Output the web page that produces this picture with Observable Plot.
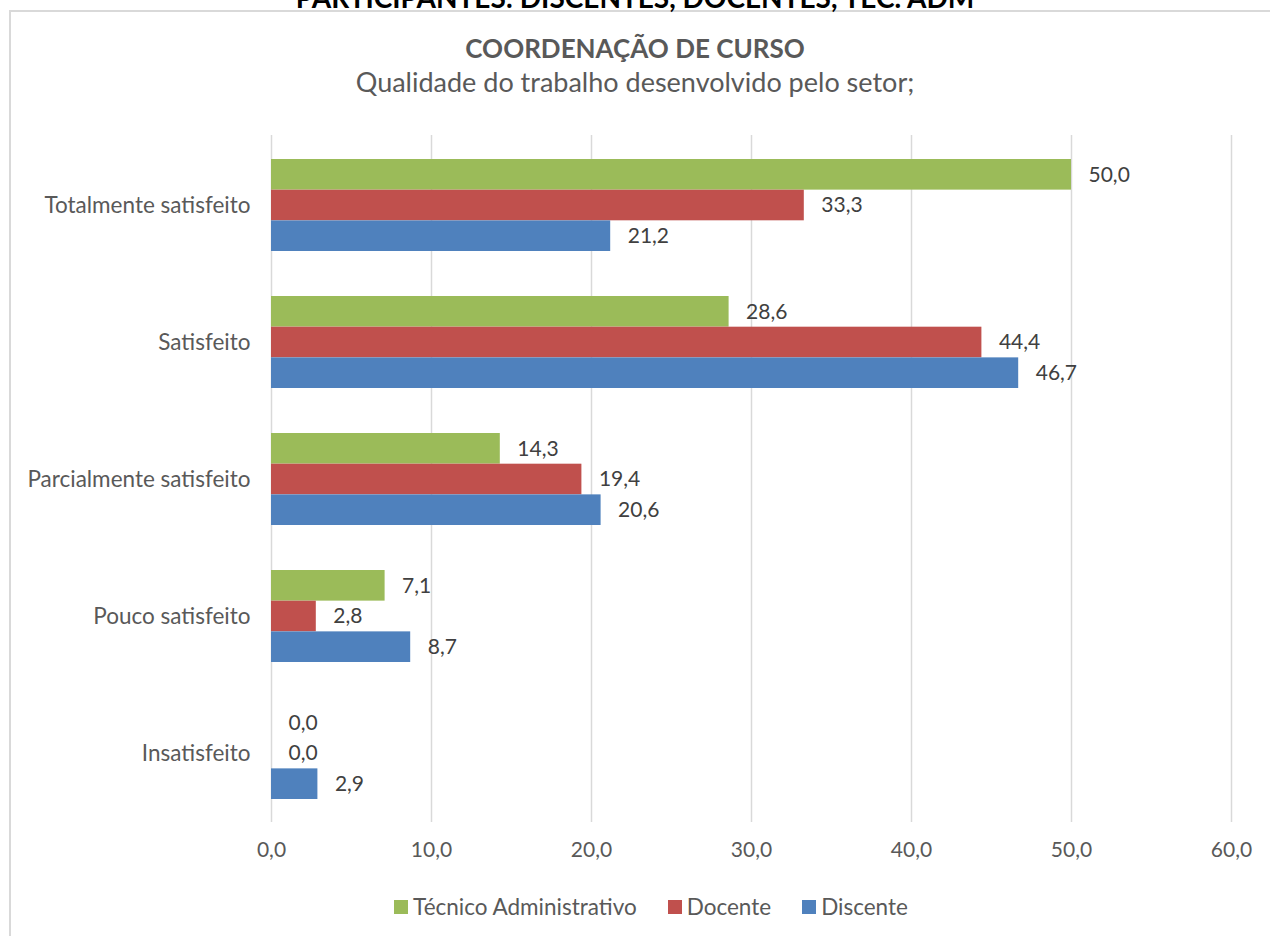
<!DOCTYPE html>
<html>
<head>
<meta charset="utf-8">
<script src="https://cdn.jsdelivr.net/npm/d3@7"></script>
<script src="https://cdn.jsdelivr.net/npm/@observablehq/plot@0.6"></script>
<style>
  body { margin: 0; width: 1270px; height: 936px; overflow: hidden; position: relative; background: #fff; font-family: Lato, "Open Sans", sans-serif; }
  #frame { position: absolute; left: 9px; top: 10px; width: 1400px; height: 1000px; border: 2px solid #d9d9d9; box-sizing: border-box; }
  #top { position: absolute; left: 0; width: 1270px; top: -19.5px; line-height: 1.2; text-align: center; font-weight: bold; font-size: 28px; color: #000; white-space: nowrap; }
  #title { position: absolute; left: 0; width: 1270px; top: 33px; line-height: 1.2; text-align: center; font-weight: bold; font-size: 26px; color: #595959; }
  #subtitle { position: absolute; left: 0; width: 1270px; top: 66px; line-height: 1.2; text-align: center; font-size: 27px; color: #595959; }
  #chart { position: absolute; left: 0; top: 100px; }
  #legend { position: absolute; left: 16px; width: 1270px; top: 893px; display: flex; justify-content: center; gap: 31px; font-size: 22.5px; color: #595959; line-height: 1.2; }
  #legend .item { display: flex; align-items: center; gap: 5px; }
  #legend .sw { width: 14px; height: 14px; display: inline-block; }
</style>
</head>
<body>
<div id="frame"></div>
<div id="top">PARTICIPANTES: DISCENTES, DOCENTES, TEC. ADM</div>
<div id="title">COORDENAÇÃO DE CURSO</div>
<div id="subtitle">Qualidade do trabalho desenvolvido pelo setor;</div>
<div id="chart"></div>
<div id="legend"></div>
<script>
const categories = ["Totalmente satisfeito", "Satisfeito", "Parcialmente satisfeito", "Pouco satisfeito", "Insatisfeito"];
const series = ["Técnico Administrativo", "Docente", "Discente"];
const tecnico = [50.0, 28.6, 14.3, 7.1, 0.0];
const docente = [33.3, 44.4, 19.4, 2.8, 0.0];
const discente = [21.2, 46.7, 20.6, 8.7, 2.9];
const xTicks = [0, 10, 20, 30, 40, 50, 60];
const colors = ["#9BBB59", "#C0504D", "#4F81BD"];

const seriesValues = [tecnico, docente, discente];
const rows = [];
series.forEach((s, i) => categories.forEach((c, j) => rows.push({series: s, category: c, value: seriesValues[i][j]})));

const fmt = d => d.toFixed(1).replace(".", ",");

const W = 1270, H = 780, mt = 35, mb = 58, ml = 271, mr = 39;
const pIn = 0.33;
const step = (H - mt - mb) / categories.length;
const bw = step * (1 - pIn);
const barH = bw / 3;

const chart = Plot.plot({
  width: W, height: H,
  marginTop: mt, marginBottom: mb, marginLeft: ml, marginRight: mr,
  style: { fontFamily: "Lato, 'Open Sans', sans-serif", background: "transparent" },
  x: { domain: [0, 60] },
  y: { domain: categories, paddingInner: pIn, paddingOuter: pIn / 2 },
  marks: [
    Plot.gridX(xTicks, { stroke: "#d9d9d9", strokeOpacity: 1, strokeWidth: 1.5 }),
    ...series.map((s, i) => Plot.barX(rows.filter(r => r.series === s), {
      x: "value", y: "category", fill: colors[i],
      insetTop: i * barH, insetBottom: (2 - i) * barH
    })),
    ...series.map((s, i) => Plot.text(rows.filter(r => r.series === s), {
      x: "value", y: "category", text: d => fmt(d.value),
      dx: 17, dy: (i - 1) * barH, textAnchor: "start", fill: "#404040", fontSize: 21
    })),
    Plot.axisX({ ticks: xTicks, tickSize: 0, tickPadding: 20, tickFormat: fmt, fontSize: 21, color: "#595959", label: null }),
    Plot.axisY({ tickSize: 0, tickPadding: 21, fontSize: 22.5, color: "#595959", label: null })
  ]
});
document.getElementById("chart").appendChild(chart);

const legend = document.getElementById("legend");
series.forEach((s, i) => {
  const item = document.createElement("div");
  item.className = "item";
  const sw = document.createElement("span");
  sw.className = "sw";
  sw.style.background = colors[i];
  const t = document.createElement("span");
  t.textContent = s;
  item.appendChild(sw);
  item.appendChild(t);
  legend.appendChild(item);
});
</script>
</body>
</html>
